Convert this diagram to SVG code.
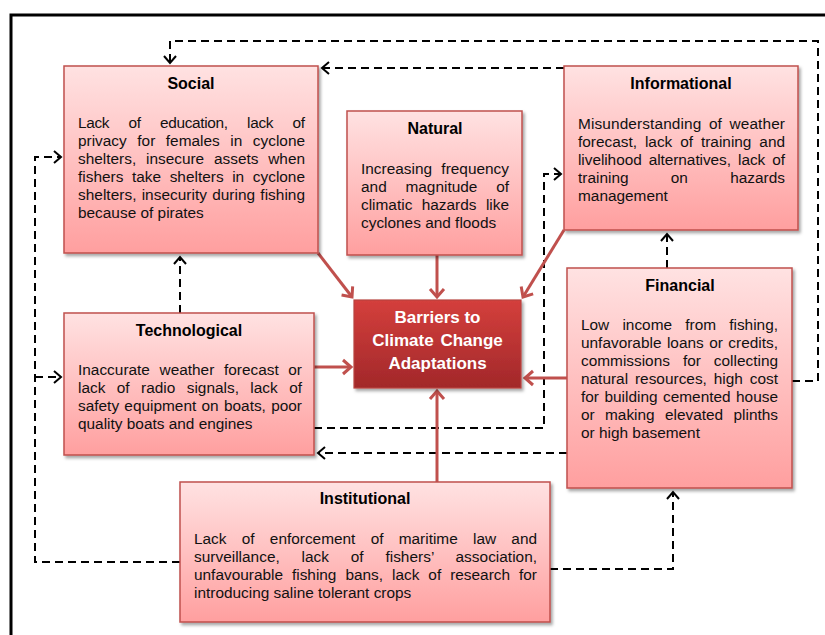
<svg xmlns="http://www.w3.org/2000/svg" width="825" height="635" viewBox="0 0 825 635">
<style>
.box{fill:url(#pink);stroke:#c0504d;stroke-width:1.5;filter:url(#sh)}
.core{fill:url(#red);stroke:#b84440;stroke-width:1.2;filter:url(#sh)}
.t{font-family:"Liberation Sans",Arial,sans-serif;font-weight:bold;font-size:16px;fill:#000;text-anchor:middle}
.b{font-family:"Liberation Sans",Arial,sans-serif;font-size:15.4px;fill:#111}
.c{font-family:"Liberation Sans",Arial,sans-serif;font-weight:bold;font-size:17px;fill:#fff;text-anchor:middle}
.red{fill:none;stroke:#c0504d;stroke-width:3;marker-end:url(#ra)}
.dash{fill:none;stroke:#000;stroke-width:2;stroke-dasharray:8,5;marker-end:url(#da)}
.dashn{fill:none;stroke:#000;stroke-width:2;stroke-dasharray:8,5}
</style>
<defs>
<linearGradient id="pink" x1="0" y1="0" x2="0" y2="1">
<stop offset="0" stop-color="#ffe2e2"/><stop offset="1" stop-color="#ff9f9f"/>
</linearGradient>
<linearGradient id="red" x1="0" y1="0" x2="0" y2="1">
<stop offset="0" stop-color="#d43f3c"/><stop offset="1" stop-color="#a2282a"/>
</linearGradient>
<filter id="sh" x="-10%" y="-10%" width="120%" height="125%">
<feDropShadow dx="2" dy="2.5" stdDeviation="1.5" flood-color="#000" flood-opacity="0.35"/>
</filter>
<marker id="ra" markerUnits="userSpaceOnUse" markerWidth="20" markerHeight="20" viewBox="-12 -10 14 20" refX="0" refY="0" orient="auto">
<path d="M-8,-7 L0,0 L-8,7" fill="none" stroke="#c0504d" stroke-width="3" stroke-linejoin="miter"/>
</marker>
<marker id="da" markerUnits="userSpaceOnUse" markerWidth="20" markerHeight="20" viewBox="-12 -10 14 20" refX="0" refY="0" orient="auto">
<path d="M-7,-6 L0,0 L-7,6" fill="none" stroke="#000" stroke-width="2" stroke-dasharray="none"/>
</marker>
</defs>
<rect width="825" height="635" fill="#fff"/>
<path d="M11,640 V15 H830" fill="none" stroke="#000" stroke-width="3"/>

<g id="connectors">
<path class="dash" d="M792,381 H818 V41 H170 V63"/>
<path class="dash" d="M564,68 H322"/>
<path class="dash" d="M180,562 H35 V157 H61"/>
<path class="dash" d="M35,377 H61"/>
<path class="dash" d="M180,313 V257"/>
<path class="dash" d="M314,428 H544 V174 H561"/>
<path class="dash" d="M567,453 H318"/>
<path class="dash" d="M667,268 V234"/>
<path class="dash" d="M550,569 H673 V492"/>
<path class="red" d="M318,253 L352,297"/>
<path class="red" d="M437,255 V297"/>
<path class="red" d="M564,230 L523,297"/>
<path class="red" d="M314,367 H351"/>
<path class="red" d="M567,378 H525"/>
<path class="red" d="M437,482 V391"/>
</g>

<g id="social">
<rect class="box" x="64" y="66" width="254" height="187"/>
<text class="t" x="191" y="89">Social</text>
<text class="b" x="78" y="128" textLength="227" lengthAdjust="spacing" word-spacing="15.4">Lack of education, lack of</text>
<text class="b" x="78" y="146" textLength="227" lengthAdjust="spacing" word-spacing="6.3">privacy for females in cyclone</text>
<text class="b" x="78" y="164" textLength="227" lengthAdjust="spacing" word-spacing="5.5">shelters, insecure assets when</text>
<text class="b" x="78" y="182" textLength="227" lengthAdjust="spacing" word-spacing="4.3">fishers take shelters in cyclone</text>
<text class="b" x="78" y="200" textLength="227" lengthAdjust="spacing" word-spacing="0.9">shelters, insecurity during fishing</text>
<text class="b" x="78" y="218">because of pirates</text>
</g>

<g id="natural">
<rect class="box" x="347" y="111" width="175" height="144"/>
<text class="t" x="435" y="134">Natural</text>
<text class="b" x="361" y="174" textLength="148" lengthAdjust="spacing" word-spacing="5">Increasing frequency</text>
<text class="b" x="361" y="192" textLength="148" lengthAdjust="spacing" word-spacing="14.5">and magnitude of</text>
<text class="b" x="361" y="210" textLength="148" lengthAdjust="spacing" word-spacing="5.1">climatic hazards like</text>
<text class="b" x="361" y="228">cyclones and floods</text>
</g>

<g id="informational">
<rect class="box" x="564" y="66" width="234" height="164"/>
<text class="t" x="681" y="89">Informational</text>
<text class="b" x="578" y="129" textLength="207" lengthAdjust="spacing" word-spacing="3.1">Misunderstanding of weather</text>
<text class="b" x="578" y="147" textLength="207" lengthAdjust="spacing" word-spacing="3.6">forecast, lack of training and</text>
<text class="b" x="578" y="165" textLength="207" lengthAdjust="spacing" word-spacing="2.8">livelihood alternatives, lack of</text>
<text class="b" x="578" y="183" textLength="207" lengthAdjust="spacing" word-spacing="38">training on hazards</text>
<text class="b" x="578" y="201">management</text>
</g>

<g id="technological">
<rect class="box" x="64" y="313" width="250" height="142"/>
<text class="t" x="189" y="336">Technological</text>
<text class="b" x="78" y="375" textLength="224" lengthAdjust="spacing" word-spacing="5.3">Inaccurate weather forecast or</text>
<text class="b" x="78" y="393" textLength="224" lengthAdjust="spacing" word-spacing="7.1">lack of radio signals, lack of</text>
<text class="b" x="78" y="411" textLength="224" lengthAdjust="spacing" word-spacing="1">safety equipment on boats, poor</text>
<text class="b" x="78" y="429">quality boats and engines</text>
</g>

<g id="barriers">
<rect class="core" x="354" y="300" width="167" height="88"/>
<text class="c" x="437.5" y="323">Barriers to</text>
<text class="c" x="437.5" y="346" word-spacing="2">Climate Change</text>
<text class="c" x="437.5" y="369">Adaptations</text>
</g>

<g id="financial">
<rect class="box" x="567" y="268" width="225" height="220"/>
<text class="t" x="680" y="291">Financial</text>
<text class="b" x="581" y="330" textLength="197" lengthAdjust="spacing" word-spacing="8.9">Low income from fishing,</text>
<text class="b" x="581" y="348" textLength="197" lengthAdjust="spacing" word-spacing="1.2">unfavorable loans or credits,</text>
<text class="b" x="581" y="366" textLength="197" lengthAdjust="spacing" word-spacing="8.7">commissions for collecting</text>
<text class="b" x="581" y="384" textLength="197" lengthAdjust="spacing" word-spacing="2.6">natural resources, high cost</text>
<text class="b" x="581" y="402" textLength="197" lengthAdjust="spacing" word-spacing="1.2">for building cemented house</text>
<text class="b" x="581" y="420" textLength="197" lengthAdjust="spacing" word-spacing="6">or making elevated plinths</text>
<text class="b" x="581" y="438">or high basement</text>
</g>

<g id="institutional">
<rect class="box" x="180" y="482" width="370" height="140"/>
<text class="t" x="365" y="504">Institutional</text>
<text class="b" x="194" y="544" textLength="343" lengthAdjust="spacing" word-spacing="11">Lack of enforcement of maritime law and</text>
<text class="b" x="194" y="562" textLength="343" lengthAdjust="spacing" word-spacing="17.5">surveillance, lack of fishers’ association,</text>
<text class="b" x="194" y="580" textLength="343" lengthAdjust="spacing" word-spacing="4.7">unfavourable fishing bans, lack of research for</text>
<text class="b" x="194" y="598">introducing saline tolerant crops</text>
</g>
</svg>
